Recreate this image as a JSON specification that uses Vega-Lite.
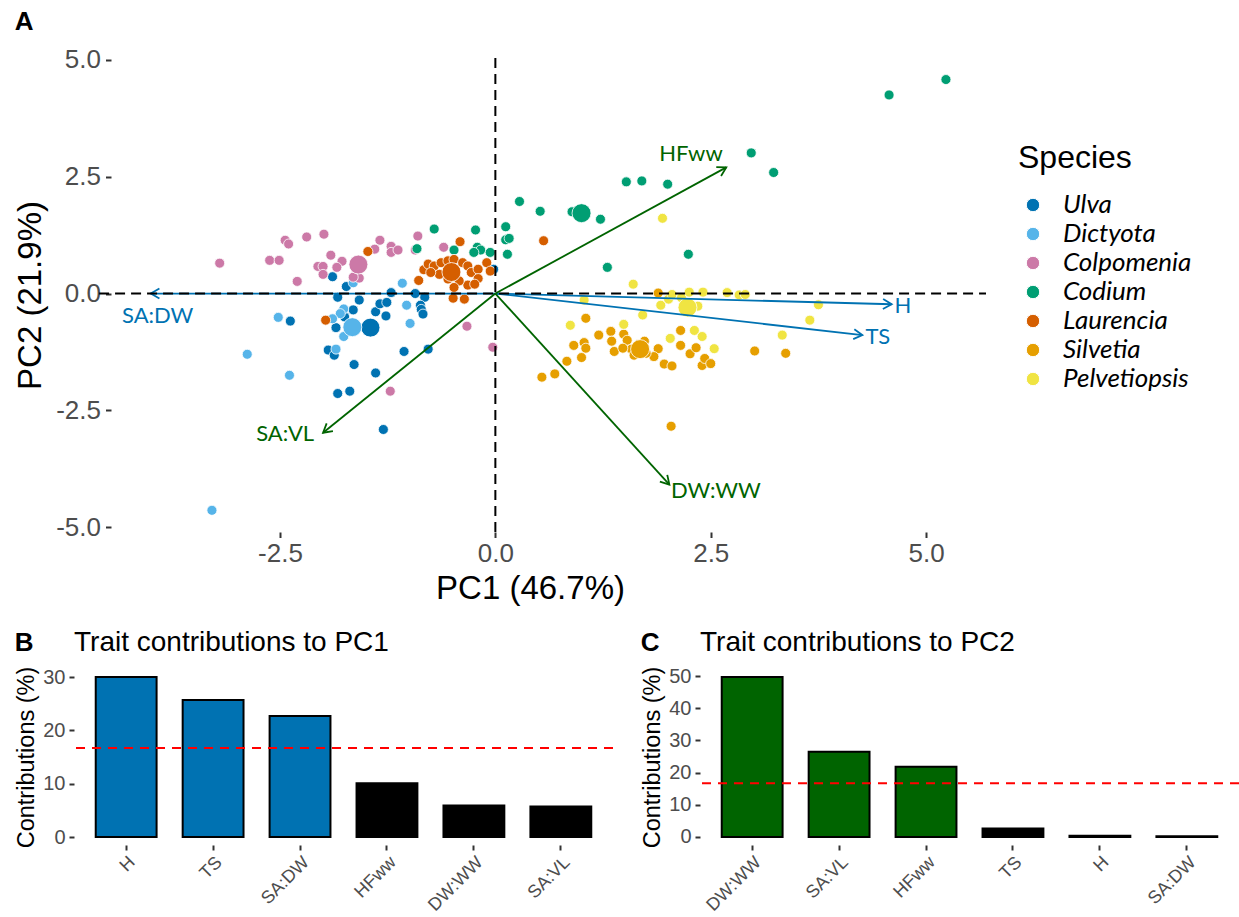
{
  "$schema": "https://vega.github.io/schema/vega-lite/v6.json",
  "background": "white",
  "padding": {"left": 14, "top": 8, "right": 2, "bottom": 2},
  "columns": 1,
  "align": "none",
  "spacing": 23,
  "config": {
    "view": {"stroke": null},
    "font": "Liberation Sans",
    "axis": {"grid": false, "domain": false, "ticks": true, "tickColor": "#333333", "tickWidth": 2, "labelColor": "#4D4D4D", "titleColor": "#000000", "titleFontWeight": "normal", "labelFont": "Liberation Sans", "titleFont": "Liberation Sans", "labelOverlap": false},
    "title": {"font": "Liberation Sans", "color": "#000000"}
  },
  "datasets": {
    "pts": [
      {"Species":"Ulva","PC1":-1.89,"PC2":0.36},{"Species":"Ulva","PC1":-1.73,"PC2":0.15},{"Species":"Ulva","PC1":-1.83,"PC2":-0.08},{"Species":"Ulva","PC1":-1.58,"PC2":-0.14},{"Species":"Ulva","PC1":-1.65,"PC2":-0.35},{"Species":"Ulva","PC1":-1.39,"PC2":-0.39},{"Species":"Ulva","PC1":-1.34,"PC2":-0.22},{"Species":"Ulva","PC1":-1.26,"PC2":-0.19},{"Species":"Ulva","PC1":-1.21,"PC2":0.02},{"Species":"Ulva","PC1":-1.27,"PC2":-0.48},{"Species":"Ulva","PC1":-1.75,"PC2":-0.5},{"Species":"Ulva","PC1":-1.85,"PC2":-0.73},{"Species":"Ulva","PC1":-2.38,"PC2":-0.59},{"Species":"Ulva","PC1":-1.94,"PC2":-1.21},{"Species":"Ulva","PC1":-1.87,"PC2":-1.32},{"Species":"Ulva","PC1":-1.64,"PC2":-1.52},{"Species":"Ulva","PC1":-1.39,"PC2":-1.7},{"Species":"Ulva","PC1":-1.83,"PC2":-2.14},{"Species":"Ulva","PC1":-1.69,"PC2":-2.09},{"Species":"Ulva","PC1":-1.3,"PC2":-2.91},{"Species":"Ulva","PC1":-1.06,"PC2":-1.24},{"Species":"Ulva","PC1":-0.78,"PC2":-1.19},{"Species":"Ulva","PC1":-0.93,"PC2":0.0},{"Species":"Ulva","PC1":-0.82,"PC2":-0.08},{"Species":"Ulva","PC1":-0.87,"PC2":-0.25},{"Species":"Ulva","PC1":-0.86,"PC2":-0.34},{"Species":"Ulva","PC1":-0.84,"PC2":-0.44},{"Species":"Ulva","PC1":-0.02,"PC2":0.52},
      {"Species":"Dictyota","PC1":-1.65,"PC2":0.23},{"Species":"Dictyota","PC1":-1.08,"PC2":0.22},{"Species":"Dictyota","PC1":-1.03,"PC2":-0.25},{"Species":"Dictyota","PC1":-0.99,"PC2":-0.64},{"Species":"Dictyota","PC1":-2.52,"PC2":-0.51},{"Species":"Dictyota","PC1":-2.88,"PC2":-1.3},{"Species":"Dictyota","PC1":-2.39,"PC2":-1.75},{"Species":"Dictyota","PC1":-1.76,"PC2":-0.33},{"Species":"Dictyota","PC1":-1.8,"PC2":-0.43},{"Species":"Dictyota","PC1":-1.89,"PC2":-0.54},{"Species":"Dictyota","PC1":-1.76,"PC2":-0.92},{"Species":"Dictyota","PC1":-1.85,"PC2":-1.19},{"Species":"Dictyota","PC1":-3.29,"PC2":-4.64},
      {"Species":"Colpomenia","PC1":-3.2,"PC2":0.65},{"Species":"Colpomenia","PC1":-2.62,"PC2":0.71},{"Species":"Colpomenia","PC1":-2.51,"PC2":0.71},{"Species":"Colpomenia","PC1":-2.44,"PC2":1.14},{"Species":"Colpomenia","PC1":-2.4,"PC2":1.06},{"Species":"Colpomenia","PC1":-2.19,"PC2":1.21},{"Species":"Colpomenia","PC1":-1.99,"PC2":1.27},{"Species":"Colpomenia","PC1":-2.3,"PC2":0.26},{"Species":"Colpomenia","PC1":-1.91,"PC2":0.82},{"Species":"Colpomenia","PC1":-1.78,"PC2":0.69},{"Species":"Colpomenia","PC1":-2.06,"PC2":0.58},{"Species":"Colpomenia","PC1":-2.0,"PC2":0.58},{"Species":"Colpomenia","PC1":-2.0,"PC2":0.41},{"Species":"Colpomenia","PC1":-1.84,"PC2":0.56},{"Species":"Colpomenia","PC1":-1.58,"PC2":0.33},{"Species":"Colpomenia","PC1":-1.34,"PC2":1.14},{"Species":"Colpomenia","PC1":-1.4,"PC2":0.95},{"Species":"Colpomenia","PC1":-1.21,"PC2":1.01},{"Species":"Colpomenia","PC1":-1.21,"PC2":0.88},{"Species":"Colpomenia","PC1":-1.13,"PC2":0.93},{"Species":"Colpomenia","PC1":-0.9,"PC2":1.23},{"Species":"Colpomenia","PC1":-0.93,"PC2":0.93},{"Species":"Colpomenia","PC1":-0.6,"PC2":0.99},{"Species":"Colpomenia","PC1":-0.33,"PC2":-0.7},{"Species":"Colpomenia","PC1":-0.03,"PC2":-1.15},{"Species":"Colpomenia","PC1":-1.22,"PC2":-2.09},{"Species":"Colpomenia","PC1":-1.65,"PC2":0.35},
      {"Species":"Codium","PC1":-0.71,"PC2":1.38},{"Species":"Codium","PC1":-0.23,"PC2":1.36},{"Species":"Codium","PC1":0.12,"PC2":1.43},{"Species":"Codium","PC1":0.12,"PC2":1.15},{"Species":"Codium","PC1":0.16,"PC2":1.18},{"Species":"Codium","PC1":0.14,"PC2":0.84},{"Species":"Codium","PC1":-0.48,"PC2":0.93},{"Species":"Codium","PC1":-0.21,"PC2":0.99},{"Species":"Codium","PC1":-0.17,"PC2":0.93},{"Species":"Codium","PC1":-0.25,"PC2":0.88},{"Species":"Codium","PC1":-0.06,"PC2":0.88},{"Species":"Codium","PC1":-0.91,"PC2":0.96},{"Species":"Codium","PC1":0.28,"PC2":1.97},{"Species":"Codium","PC1":0.52,"PC2":1.76},{"Species":"Codium","PC1":0.89,"PC2":1.75},{"Species":"Codium","PC1":1.22,"PC2":1.59},{"Species":"Codium","PC1":1.52,"PC2":2.39},{"Species":"Codium","PC1":1.7,"PC2":2.41},{"Species":"Codium","PC1":2.0,"PC2":2.34},{"Species":"Codium","PC1":2.97,"PC2":3.01},{"Species":"Codium","PC1":3.23,"PC2":2.59},{"Species":"Codium","PC1":2.24,"PC2":0.84},{"Species":"Codium","PC1":1.3,"PC2":0.56},{"Species":"Codium","PC1":4.57,"PC2":4.25},{"Species":"Codium","PC1":5.23,"PC2":4.58},
      {"Species":"Laurencia","PC1":-0.41,"PC2":1.11},{"Species":"Laurencia","PC1":-1.48,"PC2":0.9},{"Species":"Laurencia","PC1":-1.97,"PC2":-0.57},{"Species":"Laurencia","PC1":-0.89,"PC2":0.28},{"Species":"Laurencia","PC1":-0.83,"PC2":0.51},{"Species":"Laurencia","PC1":-0.78,"PC2":0.63},{"Species":"Laurencia","PC1":-0.71,"PC2":0.59},{"Species":"Laurencia","PC1":-0.63,"PC2":0.66},{"Species":"Laurencia","PC1":-0.55,"PC2":0.7},{"Species":"Laurencia","PC1":-0.48,"PC2":0.73},{"Species":"Laurencia","PC1":-0.38,"PC2":0.66},{"Species":"Laurencia","PC1":-0.32,"PC2":0.59},{"Species":"Laurencia","PC1":-0.28,"PC2":0.45},{"Species":"Laurencia","PC1":-0.2,"PC2":0.52},{"Species":"Laurencia","PC1":-0.1,"PC2":0.66},{"Species":"Laurencia","PC1":-0.06,"PC2":0.48},{"Species":"Laurencia","PC1":-0.2,"PC2":0.32},{"Species":"Laurencia","PC1":-0.32,"PC2":0.18},{"Species":"Laurencia","PC1":-0.42,"PC2":0.27},{"Species":"Laurencia","PC1":-0.48,"PC2":0.13},{"Species":"Laurencia","PC1":-0.49,"PC2":-0.1},{"Species":"Laurencia","PC1":-0.36,"PC2":-0.12},{"Species":"Laurencia","PC1":-0.24,"PC2":0.2},{"Species":"Laurencia","PC1":-0.55,"PC2":0.31},{"Species":"Laurencia","PC1":-0.65,"PC2":0.41},{"Species":"Laurencia","PC1":-0.75,"PC2":0.45},{"Species":"Laurencia","PC1":0.56,"PC2":1.13},
      {"Species":"Silvetia","PC1":1.89,"PC2":0.01},{"Species":"Silvetia","PC1":1.05,"PC2":-0.53},{"Species":"Silvetia","PC1":1.2,"PC2":-0.89},{"Species":"Silvetia","PC1":1.34,"PC2":-0.81},{"Species":"Silvetia","PC1":1.49,"PC2":-0.87},{"Species":"Silvetia","PC1":1.53,"PC2":-1.0},{"Species":"Silvetia","PC1":1.35,"PC2":-1.02},{"Species":"Silvetia","PC1":1.38,"PC2":-1.24},{"Species":"Silvetia","PC1":0.91,"PC2":-1.11},{"Species":"Silvetia","PC1":1.03,"PC2":-1.05},{"Species":"Silvetia","PC1":1.05,"PC2":-1.17},{"Species":"Silvetia","PC1":1.0,"PC2":-1.37},{"Species":"Silvetia","PC1":0.83,"PC2":-1.45},{"Species":"Silvetia","PC1":0.69,"PC2":-1.72},{"Species":"Silvetia","PC1":0.54,"PC2":-1.79},{"Species":"Silvetia","PC1":1.58,"PC2":-1.19},{"Species":"Silvetia","PC1":1.61,"PC2":-1.32},{"Species":"Silvetia","PC1":1.73,"PC2":-1.02},{"Species":"Silvetia","PC1":1.89,"PC2":-1.18},{"Species":"Silvetia","PC1":1.84,"PC2":-1.35},{"Species":"Silvetia","PC1":2.15,"PC2":-0.79},{"Species":"Silvetia","PC1":2.15,"PC2":-1.11},{"Species":"Silvetia","PC1":2.26,"PC2":-1.29},{"Species":"Silvetia","PC1":2.33,"PC2":-1.16},{"Species":"Silvetia","PC1":1.96,"PC2":-1.51},{"Species":"Silvetia","PC1":2.05,"PC2":-1.55},{"Species":"Silvetia","PC1":2.4,"PC2":-1.54},{"Species":"Silvetia","PC1":2.43,"PC2":-1.39},{"Species":"Silvetia","PC1":2.5,"PC2":-1.5},{"Species":"Silvetia","PC1":3.01,"PC2":-1.23},{"Species":"Silvetia","PC1":3.37,"PC2":-1.28},{"Species":"Silvetia","PC1":2.04,"PC2":-2.84},{"Species":"Silvetia","PC1":1.66,"PC2":-1.09},{"Species":"Silvetia","PC1":1.75,"PC2":-1.28},{"Species":"Silvetia","PC1":1.48,"PC2":-1.17},
      {"Species":"Pelvetiopsis","PC1":1.6,"PC2":0.2},{"Species":"Pelvetiopsis","PC1":1.03,"PC2":-0.14},{"Species":"Pelvetiopsis","PC1":0.87,"PC2":-0.68},{"Species":"Pelvetiopsis","PC1":1.49,"PC2":-0.66},{"Species":"Pelvetiopsis","PC1":1.71,"PC2":-0.46},{"Species":"Pelvetiopsis","PC1":1.92,"PC2":-0.25},{"Species":"Pelvetiopsis","PC1":2.01,"PC2":-0.12},{"Species":"Pelvetiopsis","PC1":2.05,"PC2":-0.02},{"Species":"Pelvetiopsis","PC1":2.16,"PC2":-0.09},{"Species":"Pelvetiopsis","PC1":2.25,"PC2":0.03},{"Species":"Pelvetiopsis","PC1":2.41,"PC2":0.03},{"Species":"Pelvetiopsis","PC1":2.35,"PC2":-0.27},{"Species":"Pelvetiopsis","PC1":2.69,"PC2":0.02},{"Species":"Pelvetiopsis","PC1":2.83,"PC2":-0.03},{"Species":"Pelvetiopsis","PC1":2.9,"PC2":-0.02},{"Species":"Pelvetiopsis","PC1":2.31,"PC2":-0.79},{"Species":"Pelvetiopsis","PC1":2.4,"PC2":-0.92},{"Species":"Pelvetiopsis","PC1":2.03,"PC2":-0.96},{"Species":"Pelvetiopsis","PC1":2.54,"PC2":-1.18},{"Species":"Pelvetiopsis","PC1":3.33,"PC2":-0.89},{"Species":"Pelvetiopsis","PC1":3.65,"PC2":-0.57},{"Species":"Pelvetiopsis","PC1":3.75,"PC2":-0.24},{"Species":"Pelvetiopsis","PC1":1.94,"PC2":1.61}
    ],
    "means": [
      {"Species":"Ulva","PC1":-1.45,"PC2":-0.73},
      {"Species":"Dictyota","PC1":-1.66,"PC2":-0.72},
      {"Species":"Colpomenia","PC1":-1.59,"PC2":0.62},
      {"Species":"Codium","PC1":1.0,"PC2":1.72},
      {"Species":"Laurencia","PC1":-0.51,"PC2":0.46},
      {"Species":"Silvetia","PC1":1.68,"PC2":-1.19},
      {"Species":"Pelvetiopsis","PC1":2.23,"PC2":-0.3}
    ],
    "vars": [
      {"var":"H","PC1":4.6,"PC2":-0.23,"lx":4.73,"ly":-0.27,"axis":"PC1"},
      {"var":"TS","PC1":4.26,"PC2":-0.89,"lx":4.44,"ly":-0.94,"axis":"PC1"},
      {"var":"SA:DW","PC1":-4.0,"PC2":0.0,"lx":-3.92,"ly":-0.49,"axis":"PC1"},
      {"var":"HFww","PC1":2.68,"PC2":2.7,"lx":2.27,"ly":2.99,"axis":"PC2"},
      {"var":"SA:VL","PC1":-2.0,"PC2":-2.98,"lx":-2.44,"ly":-3.01,"axis":"PC2"},
      {"var":"DW:WW","PC1":2.02,"PC2":-4.09,"lx":2.56,"ly":-4.22,"axis":"PC2"}
    ],
    "c1": [
      {"var":"H","contrib":30.0},{"var":"TS","contrib":25.7},{"var":"SA:DW","contrib":22.7},{"var":"HFww","contrib":10.1},{"var":"DW:WW","contrib":5.9},{"var":"SA:VL","contrib":5.7}
    ],
    "c2": [
      {"var":"DW:WW","contrib":49.7},{"var":"SA:VL","contrib":26.5},{"var":"HFww","contrib":21.8},{"var":"TS","contrib":2.6},{"var":"H","contrib":0.4},{"var":"SA:DW","contrib":0.2}
    ]
  },
  "concat": [
    {
      "title": {"text": "A", "anchor": "start", "frame": "bounds", "fontSize": 26, "fontWeight": "bold", "baseline": "alphabetic", "offset": -9},
      "width": 912,
      "height": 474,
      "layer": [
        {
          "data": {"name": "pts"},
          "mark": {"type": "point", "filled": true, "size": 100, "stroke": "white", "strokeWidth": 0.8, "opacity": 1},
          "encoding": {
            "x": {"field": "PC1", "type": "quantitative", "title": "PC1 (46.7%)", "scale": {"domain": [-4.891, 5.695], "nice": false, "zero": false},
                  "axis": {"values": [-2.5, 0, 2.5, 5], "labelExpr": "replace(format(datum.value, '.1f'), '\u2212', '-')", "labelFontSize": 26, "titleFontSize": 33, "tickSize": 5.5, "labelPadding": 3, "titlePadding": 6}},
            "y": {"field": "PC2", "type": "quantitative", "title": "PC2 (21.9%)", "scale": {"domain": [-5.104, 5.041], "nice": false, "zero": false},
                  "axis": {"values": [-5, -2.5, 0, 2.5, 5], "offset": -37, "labelExpr": "replace(format(datum.value, '.1f'), '\u2212', '-')", "labelFontSize": 26, "titleFontSize": 33, "tickSize": 5.5, "labelPadding": 5, "titlePadding": 8}},
            "fill": {"field": "Species", "type": "nominal",
                     "scale": {"domain": ["Ulva", "Dictyota", "Colpomenia", "Codium", "Laurencia", "Silvetia", "Pelvetiopsis"], "range": ["#0072B2", "#56B4E9", "#CC79A7", "#009E73", "#D55E00", "#E69F00", "#F0E442"]},
                     "legend": {"orient": "none", "legendX": 944, "legendY": 85, "title": "Species", "titleFontSize": 32, "titleFont": "Liberation Sans", "titleFontWeight": "normal", "titleColor": "#000000", "titlePadding": 17,
                                "labelFont": "Lato", "labelFontStyle": "italic", "labelFontSize": 26, "labelColor": "#000000", "labelOffset": 17,
                                "symbolType": "circle", "symbolSize": 180, "symbolStrokeColor": "white", "symbolStrokeWidth": 1, "symbolOffset": 2, "rowPadding": 3, "symbolOpacity": 1}}
          }
        },
        {
          "data": {"name": "means"},
          "mark": {"type": "point", "filled": true, "size": 360, "stroke": "white", "strokeWidth": 0.8, "opacity": 1},
          "encoding": {
            "x": {"field": "PC1", "type": "quantitative", "title": "PC1 (46.7%)"},
            "y": {"field": "PC2", "type": "quantitative", "title": "PC2 (21.9%)"},
            "fill": {"field": "Species", "type": "nominal"}
          }
        },
        {
          "data": {"name": "vars"},
          "transform": [{"filter": "datum.axis == 'PC1'"}],
          "mark": {"type": "rule", "color": "#0072B2", "strokeWidth": 1.8},
          "encoding": {
            "x": {"field": "PC1", "type": "quantitative", "title": "PC1 (46.7%)"},
            "y": {"field": "PC2", "type": "quantitative", "title": "PC2 (21.9%)"},
            "x2": {"datum": 0},
            "y2": {"datum": 0}
          }
        },
        {
          "data": {"name": "vars"},
          "transform": [{"filter": "datum.axis == 'PC2'"}],
          "mark": {"type": "rule", "color": "#006400", "strokeWidth": 1.8},
          "encoding": {
            "x": {"field": "PC1", "type": "quantitative", "title": "PC1 (46.7%)"},
            "y": {"field": "PC2", "type": "quantitative", "title": "PC2 (21.9%)"},
            "x2": {"datum": 0},
            "y2": {"datum": 0}
          }
        },
        {
          "data": {"name": "vars"},
          "transform": [{"filter": "datum.axis == 'PC1'"}, {"calculate": "atan2(-datum.PC2 * 46.67, datum.PC1 * 86.13) * 180 / PI", "as": "ang"}],
          "mark": {"type": "point", "shape": "M -1.73 -1 L 0 0 L -1.73 1", "filled": false, "size": 100, "strokeWidth": 1.8, "color": "#0072B2", "opacity": 1},
          "encoding": {
            "x": {"field": "PC1", "type": "quantitative", "title": "PC1 (46.7%)"},
            "y": {"field": "PC2", "type": "quantitative", "title": "PC2 (21.9%)"},
            "angle": {"field": "ang", "type": "quantitative", "scale": null}
          }
        },
        {
          "data": {"name": "vars"},
          "transform": [{"filter": "datum.axis == 'PC2'"}, {"calculate": "atan2(-datum.PC2 * 46.67, datum.PC1 * 86.13) * 180 / PI", "as": "ang"}],
          "mark": {"type": "point", "shape": "M -1.73 -1 L 0 0 L -1.73 1", "filled": false, "size": 100, "strokeWidth": 1.8, "color": "#006400", "opacity": 1},
          "encoding": {
            "x": {"field": "PC1", "type": "quantitative", "title": "PC1 (46.7%)"},
            "y": {"field": "PC2", "type": "quantitative", "title": "PC2 (21.9%)"},
            "angle": {"field": "ang", "type": "quantitative", "scale": null}
          }
        },
        {
          "data": {"name": "vars"},
          "transform": [{"filter": "datum.axis == 'PC1'"}],
          "mark": {"type": "text", "font": "Lato", "fontSize": 22, "color": "#0072B2"},
          "encoding": {
            "x": {"field": "lx", "type": "quantitative", "title": "PC1 (46.7%)"},
            "y": {"field": "ly", "type": "quantitative", "title": "PC2 (21.9%)"},
            "text": {"field": "var", "type": "nominal"}
          }
        },
        {
          "data": {"name": "vars"},
          "transform": [{"filter": "datum.axis == 'PC2'"}],
          "mark": {"type": "text", "font": "Lato", "fontSize": 22, "color": "#006400"},
          "encoding": {
            "x": {"field": "lx", "type": "quantitative", "title": "PC1 (46.7%)"},
            "y": {"field": "ly", "type": "quantitative", "title": "PC2 (21.9%)"},
            "text": {"field": "var", "type": "nominal"}
          }
        },
        {
          "data": {"values": [{}]},
          "mark": {"type": "rule", "color": "black", "strokeWidth": 2, "strokeDash": [10, 6]},
          "encoding": {"x": {"datum": 0, "type": "quantitative"}}
        },
        {
          "data": {"values": [{}]},
          "mark": {"type": "rule", "color": "black", "strokeWidth": 2, "strokeDash": [10, 6]},
          "encoding": {"y": {"datum": 0, "type": "quantitative"}, "x": {"datum": -4.6, "type": "quantitative"}, "x2": {"datum": 5.695}}
        }
      ]
    },
    {
      "concat": [
        {
          "title": {"text": "B", "anchor": "start", "frame": "bounds", "fontSize": 26, "fontWeight": "bold", "baseline": "alphabetic", "offset": -48},
          "hconcat": [
            {
              "title": {"text": "Trait contributions to PC1", "anchor": "start", "frame": "group", "fontSize": 28, "fontWeight": "normal", "baseline": "alphabetic", "offset": -13},
              "width": 539,
              "height": 176,
              "layer": [
                {
                  "data": {"name": "c1"},
                  "mark": {"type": "bar", "stroke": "black", "strokeWidth": 2},
                  "encoding": {
                    "x": {"field": "var", "type": "nominal", "sort": null, "title": null, "scale": {"paddingInner": 0.3, "paddingOuter": 0.25},
                          "axis": {"labelAngle": -45, "labelAlign": "right", "labelBaseline": "top", "labelFontSize": 18, "tickSize": 5, "labelPadding": 3}},
                    "y": {"field": "contrib", "type": "quantitative", "title": "Contributions (%)", "scale": {"domain": [-1.5, 31.5], "nice": false, "zero": false},
                          "axis": {"values": [0, 10, 20, 30], "labelFontSize": 20, "titleFontSize": 23.5, "tickSize": 5, "labelPadding": 4, "titlePadding": 4}},
                    "fill": {"condition": {"test": "datum.contrib > 16.67", "value": "#0072B2"}, "value": "#000000"}
                  }
                },
                {
                  "data": {"values": [{}]},
                  "mark": {"type": "rule", "color": "#FF0000", "strokeWidth": 2, "strokeDash": [9, 7]},
                  "encoding": {"y": {"datum": 16.67, "type": "quantitative", "title": "Contributions (%)",
                                     "axis": {"values": [0, 10, 20, 30], "labelFontSize": 20, "titleFontSize": 23.5, "tickSize": 5, "labelPadding": 4, "titlePadding": 4}}}
                }
              ]
            }
          ]
        },
        {
          "title": {"text": "C", "anchor": "start", "frame": "bounds", "fontSize": 26, "fontWeight": "bold", "baseline": "alphabetic", "offset": -48},
          "hconcat": [
            {
              "title": {"text": "Trait contributions to PC2", "anchor": "start", "frame": "group", "fontSize": 28, "fontWeight": "normal", "baseline": "alphabetic", "offset": -13},
              "width": 539,
              "height": 176,
              "layer": [
                {
                  "data": {"name": "c2"},
                  "mark": {"type": "bar", "stroke": "black", "strokeWidth": 2},
                  "encoding": {
                    "x": {"field": "var", "type": "nominal", "sort": null, "title": null, "scale": {"paddingInner": 0.3, "paddingOuter": 0.25},
                          "axis": {"labelAngle": -45, "labelAlign": "right", "labelBaseline": "top", "labelFontSize": 18, "tickSize": 5, "labelPadding": 3}},
                    "y": {"field": "contrib", "type": "quantitative", "title": "Contributions (%)", "scale": {"domain": [-2.5, 52.2], "nice": false, "zero": false},
                          "axis": {"values": [0, 10, 20, 30, 40, 50], "labelFontSize": 20, "titleFontSize": 23.5, "tickSize": 5, "labelPadding": 4, "titlePadding": 4}},
                    "fill": {"condition": {"test": "datum.contrib > 16.67", "value": "#006400"}, "value": "#000000"}
                  }
                },
                {
                  "data": {"values": [{}]},
                  "mark": {"type": "rule", "color": "#FF0000", "strokeWidth": 2, "strokeDash": [9, 7]},
                  "encoding": {"y": {"datum": 16.67, "type": "quantitative", "title": "Contributions (%)",
                                     "axis": {"values": [0, 10, 20, 30, 40, 50], "labelFontSize": 20, "titleFontSize": 23.5, "tickSize": 5, "labelPadding": 4, "titlePadding": 4}}}
                }
              ]
            }
          ]
        }
      ],
      "columns": 2,
      "spacing": 26
    }
  ]
}
